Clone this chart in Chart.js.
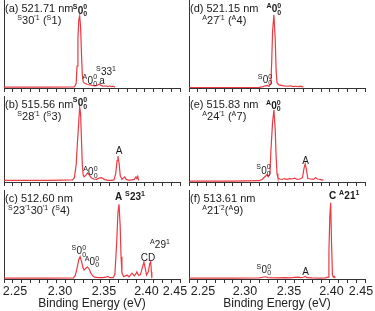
<!DOCTYPE html>
<html><head><meta charset="utf-8">
<script src="https://cdn.jsdelivr.net/npm/chart.js@4.4.0/dist/chart.umd.min.js"></script>
<style>
html,body{margin:0;padding:0;background:#fff;}
body{width:375px;height:311px;position:relative;overflow:hidden;}
canvas{position:absolute;}
</style></head><body>
<canvas id="pa"></canvas><canvas id="pb"></canvas><canvas id="pc"></canvas>
<canvas id="pd"></canvas><canvas id="pe"></canvas><canvas id="pf"></canvas>
<script>
// ---- data ----
const xTickLabels = ['2.25','2.30','2.35','2.40','2.45'];
const xMin = 2.25, xMax = 2.45;

const aE = [2.250,2.300,2.330,2.332,2.333,2.334,2.335,2.336,2.337,2.338,2.339,2.340,2.342,2.345,2.348,2.350,2.353,2.356,2.358,2.360,2.363,2.366,2.368,2.370,2.372,2.374,2.376];
const aI = [0.01,0.01,0.012,0.05,0.25,0.55,0.78,0.82,0.7,0.4,0.15,0.07,0.05,0.04,0.035,0.03,0.025,0.03,0.045,0.03,0.02,0.025,0.015,0.025,0.015,0.02,0.01];

const bE = [2.250,2.300,2.328,2.330,2.332,2.334,2.336,2.337,2.338,2.339,2.340,2.341,2.343,2.345,2.347,2.349,2.352,2.355,2.358,2.361,2.364,2.368,2.372,2.375,2.377,2.3785,2.3795,2.381,2.382,2.384,2.387,2.389,2.392,2.395,2.398,2.400,2.401,2.402,2.403];
const bI = [0.02,0.02,0.025,0.05,0.2,0.55,0.87,0.8,0.5,0.2,0.08,0.06,0.08,0.105,0.08,0.05,0.035,0.03,0.045,0.05,0.03,0.02,0.02,0.025,0.1,0.25,0.30,0.2,0.08,0.03,0.06,0.03,0.02,0.025,0.03,0.06,0.04,0.065,0.02];

const cE = [2.250,2.300,2.329,2.331,2.333,2.335,2.3365,2.338,2.340,2.341,2.343,2.345,2.347,2.349,2.351,2.353,2.357,2.362,2.366,2.368,2.370,2.374,2.376,2.378,2.3795,2.3807,2.382,2.383,2.384,2.386,2.388,2.3898,2.392,2.3955,2.398,2.400,2.401,2.403,2.405,2.407,2.409,2.4105,2.412,2.414,2.4155,2.4167,2.4175,2.418];
const cI = [0.01,0.01,0.012,0.04,0.12,0.22,0.25,0.2,0.12,0.10,0.12,0.135,0.11,0.06,0.035,0.02,0.015,0.015,0.02,0.03,0.015,0.015,0.05,0.4,0.75,0.84,0.6,0.25,0.07,0.025,0.035,0.045,0.025,0.065,0.035,0.06,0.08,0.04,0.05,0.12,0.19,0.12,0.045,0.08,0.17,0.195,0.08,0.01];

const dE = [2.250,2.300,2.330,2.334,2.337,2.339,2.341,2.343,2.344,2.345,2.3465,2.348,2.349,2.350,2.352,2.355,2.358,2.362,2.365,2.368,2.371,2.374,2.377,2.380];
const dI = [0.005,0.005,0.007,0.015,0.025,0.03,0.02,0.05,0.3,0.65,0.83,0.55,0.2,0.06,0.035,0.03,0.025,0.02,0.025,0.015,0.02,0.015,0.02,0.01];

const eE = [2.250,2.300,2.330,2.333,2.335,2.337,2.3385,2.340,2.342,2.343,2.345,2.3465,2.348,2.349,2.350,2.351,2.353,2.356,2.358,2.361,2.364,2.367,2.370,2.373,2.376,2.379,2.3805,2.382,2.3835,2.385,2.388,2.391,2.394,2.396,2.399,2.401,2.403];
const eI = [0.01,0.01,0.015,0.03,0.05,0.07,0.085,0.06,0.1,0.35,0.7,0.84,0.6,0.3,0.1,0.05,0.035,0.03,0.04,0.03,0.04,0.035,0.045,0.03,0.035,0.05,0.15,0.21,0.14,0.04,0.035,0.03,0.05,0.035,0.03,0.025,0.02];

const fE = [2.250,2.300,2.330,2.334,2.337,2.340,2.350,2.360,2.365,2.370,2.374,2.377,2.380,2.382,2.384,2.390,2.400,2.405,2.408,2.409,2.410,2.411,2.412,2.413,2.414,2.415,2.416];
const fI = [0.01,0.01,0.012,0.02,0.025,0.015,0.012,0.015,0.012,0.018,0.022,0.015,0.02,0.028,0.015,0.012,0.01,0.012,0.02,0.3,0.7,0.857,0.4,0.05,0.02,0.03,0.01];

// ---- panel texts ----
const panelTitles = ['(a) 521.71 nm','(b) 515.56 nm','(c) 512.60 nm','(d) 521.15 nm','(e) 515.83 nm','(f) 513.61 nm'];
const panelSubs = ['^{S}30^{′1} (^{S}1)','^{S}28^{′1} (^{S}3)','^{S}23^{′1}30^{′1} (^{S}4)','^{A}27^{′1} (^{A}4)','^{A}24^{′1} (^{A}7)','^{A}21^{′2}(^{A}9)'];
const peakLabels = [
  [{s:'^{S}0^{0}_{0}',x:2.3364,y:0.886,bold:true},{s:'^{A}0^{0}_{0}',x:2.3477,y:0.09},{s:'^{S}33^{1}',x:2.366,y:0.19},{s:'a',x:2.3614,y:0.085}],
  [{s:'^{S}0^{0}_{0}',x:2.3364,y:0.92,bold:true},{s:'^{A}0^{0}_{0}',x:2.3483,y:0.12},{s:'A',x:2.3807,y:0.37}],
  [{s:'A ^{S}23^{1}',x:2.3761,y:0.93,bold:true,align:'left'},{s:'^{S}0^{0}_{0}',x:2.3352,y:0.32},{s:'^{A}0^{0}_{0}',x:2.35,y:0.197},{s:'CD',x:2.4136,y:0.247},{s:'^{A}29^{1}',x:2.4273,y:0.39}],
  [{s:'^{A}0^{0}_{0}',x:2.3466,y:0.90,bold:true},{s:'^{S}0^{0}_{0}',x:2.3364,y:0.097}],
  [{s:'^{A}0^{0}_{0}',x:2.346,y:0.89,bold:true},{s:'^{S}0^{0}_{0}',x:2.3347,y:0.14},{s:'A',x:2.3824,y:0.256}],
  [{s:'C ^{A}21^{1}',x:2.4091,y:0.94,bold:true,align:'left'},{s:'^{S}0^{0}_{0}',x:2.3352,y:0.11},{s:'A',x:2.3824,y:0.09}]
];

const FAM = '"Liberation Sans", Arial, sans-serif';

function parseRich(s){
  const out=[]; let buf=''; let i=0;
  const grp=()=>{ const j=s.indexOf('}',i); const g=s.slice(i+1,j); i=j+1; return g; };
  while(i<s.length){
    const c=s[i];
    if(c==='^'||c==='_'){
      if(buf){out.push({k:'n',t:buf});buf='';}
      i++; const g=grp();
      if(c==='^' && s[i]==='_'){ i++; const g2=grp(); out.push({k:'pb',t:g,b:g2}); }
      else out.push({k:c==='^'?'p':'b',t:g});
    } else {buf+=c;i++;}
  }
  if(buf) out.push({k:'n',t:buf});
  return out;
}
function richWidth(ctx,toks,size,bold){
  const w=bold?'bold ':'';
  const big=w+size+'px '+FAM, small=w+Math.round(size*0.68)+'px '+FAM;
  return toks.map(t=>{
    if(t.k==='n'){ctx.font=big;return ctx.measureText(t.t).width;}
    ctx.font=small; let ww=ctx.measureText(t.t).width;
    if(t.k==='pb') ww=Math.max(ww,ctx.measureText(t.b).width);
    return ww+0.3;
  });
}
function drawRich(ctx,str,x,y,size,bold,align){
  const toks=parseRich(str);
  const w=bold?'bold ':'';
  const big=w+size+'px '+FAM, small=w+Math.round(size*0.68)+'px '+FAM;
  const widths=richWidth(ctx,toks,size,bold);
  const total=widths.reduce((a,b)=>a+b,0);
  let cx = align==='center'? x-total/2 : x;
  const base = y + size*0.36;
  ctx.textAlign='left'; ctx.textBaseline='alphabetic'; ctx.fillStyle='#1a1a1a';
  toks.forEach((t,k)=>{
    if(t.k==='n'){ctx.font=big; ctx.fillText(t.t,cx,base);}
    else{
      ctx.font=small;
      if(t.k==='p'||t.k==='pb') ctx.fillText(t.t,cx,base-size*0.42);
      if(t.k==='b') ctx.fillText(t.t,cx,base+size*0.24);
      if(t.k==='pb') ctx.fillText(t.b,cx,base+size*0.24);
    }
    cx+=widths[k];
  });
  return total;
}

const panels = [
  {id:'pa',E:aE,I:aI,left:0,top:0,w:189,h:96,padL:4,padR:9,areaH:88,bottom:false,k:0,col:0},
  {id:'pb',E:bE,I:bI,left:0,top:96,w:189,h:94,padL:4,padR:9,areaH:86,bottom:false,k:1,col:0},
  {id:'pc',E:cE,I:cI,left:0,top:190,w:189,h:121,padL:4,padR:9,areaH:89,bottom:true,k:2,col:0},
  {id:'pd',E:dE,I:dI,left:185,top:0,w:190,h:96,padL:4,padR:10,areaH:88,bottom:false,k:3,col:1},
  {id:'pe',E:eE,I:eI,left:185,top:96,w:190,h:94,padL:4,padR:10,areaH:86,bottom:false,k:4,col:1},
  {id:'pf',E:fE,I:fI,left:185,top:190,w:190,h:121,padL:4,padR:10,areaH:89,bottom:true,k:5,col:1}
];

function labelShift(label,col){
  if(label==='2.45') return col===0 ? -5 : -4;
  if(label==='2.25') return col===0 ? 11 : 14;
  if(label==='2.40') return 10.5;
  return 12;
}

function makePlugin(p){
  return {
    id:'txt_'+p.id,
    beforeDraw(chart){
      if(!p.bottom) return;
      const items=chart.scales.x.getLabelItems();
      items.forEach(it=>{
        if(it._fx||!it.label) return;
        it._fx=true;
        it.options.textAlign='center';
        it.options.translation[0]+=labelShift(it.label,p.col);
      });
    },
    afterDatasetsDraw(chart){
      const ctx=chart.ctx, ca=chart.chartArea, xs=chart.scales.x, ys=chart.scales.y;
      ctx.save();
      const tw=drawRich(ctx,panelTitles[p.k],ca.left+1,ca.top+8,11,false,'left');
      drawRich(ctx,panelSubs[p.k],ca.left+1+tw/2,ca.top+20.5,11,false,'center');
      peakLabels[p.k].forEach(l=>{
        drawRich(ctx,l.s,xs.getPixelForValue(l.x),ys.getPixelForValue(l.y),10,!!l.bold,l.align||'center');
      });
      ctx.restore();
    }
  };
}

panels.forEach(p=>{
  const cv=document.getElementById(p.id);
  cv.width=p.w; cv.height=p.h;
  cv.style.left=p.left+'px'; cv.style.top=p.top+'px';
  cv.style.width=p.w+'px'; cv.style.height=p.h+'px';
  const pts=p.E.map((e,i)=>({x:e,y:p.I[i]}));
  new Chart(cv,{
    type:'line',
    data:{datasets:[{data:pts,borderColor:'#ea3a42',borderWidth:1.2,pointRadius:0,tension:0,fill:false}]},
    options:{
      responsive:false,animation:false,devicePixelRatio:1,
      layout:{padding:{left:p.padL,right:p.padR,top:0,bottom:0}},
      plugins:{legend:{display:false},tooltip:{enabled:false}},
      scales:{
        x:{type:'linear',min:xMin,max:xMax,
          afterFit(s){ s.height=p.h-p.areaH; },
          border:{display:true,color:'#333',width:1},
          grid:{display:true,drawOnChartArea:false,drawTicks:true,tickLength:4,tickColor:'#333',tickWidth:1},
          ticks:{display:p.bottom,stepSize:0.01,autoSkip:false,maxRotation:0,align:'inner',padding:1,color:'#222',
            font:{family:FAM,size:12.5},
            callback:(v)=>{const s=Number(v).toFixed(2);return xTickLabels.includes(s)?s:'';}},
          title:{display:p.bottom,text:'Binding Energy (eV)',color:'#222',font:{family:FAM,size:12},padding:{top:0,bottom:0}}
        },
        y:{type:'linear',min:0,max:1,
          afterFit(s){ s.width=0; },
          border:{display:true,color:'#333',width:1},
          grid:{display:false,drawTicks:false},
          ticks:{display:false}
        }
      }
    },
    plugins:[makePlugin(p)]
  });
});
</script>
</body></html>
